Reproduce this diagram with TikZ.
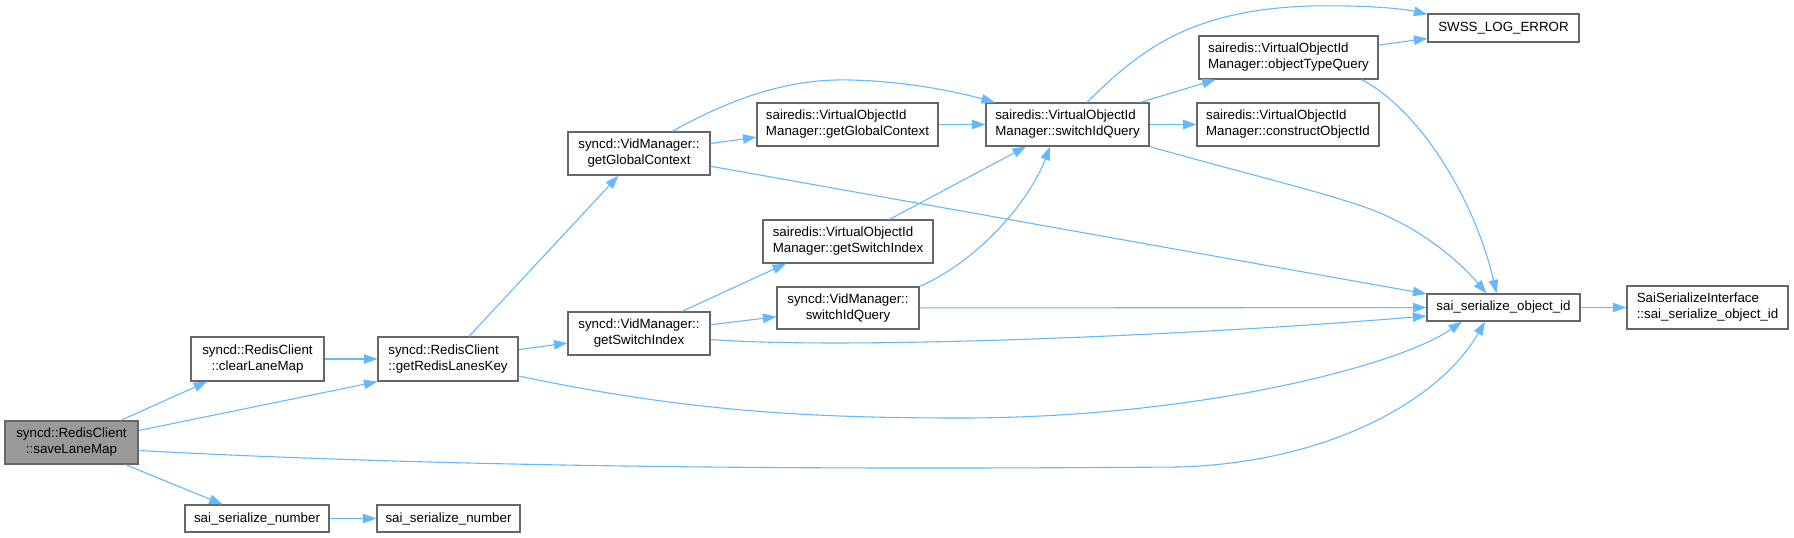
\documentclass[tikz,border=0pt]{standalone}
\usepackage{fontspec}
\setmainfont{Liberation Sans}
\usetikzlibrary{arrows.meta}
\definecolor{edgeblue}{HTML}{63B8FF}
\definecolor{boxgray}{HTML}{666666}
\definecolor{rootfill}{HTML}{999999}
\begin{document}
\begin{tikzpicture}[x=1pt,y=-1pt,
  box/.style={draw=boxgray, line width=1.2pt, fill=white, inner sep=0pt, text=black,
    font=\fontsize{13.33}{16}\selectfont, align=center},
  lbox/.style={box, align=left},
  edge/.style={draw=edgeblue, line width=1.1pt, -{Triangle[length=13.5pt,width=9.5pt]}},
]
\useasboundingbox (0,0) rectangle (1794,538);
% nodes
\node[box, fill=rootfill, minimum width=133pt, minimum height=43pt] (save) at (71.5,442.5) {syncd::RedisClient\\::saveLaneMap};
\node[box, minimum width=133pt, minimum height=44pt] (clear) at (257.5,359) {syncd::RedisClient\\::clearLaneMap};
\node[lbox, minimum width=140pt, minimum height=44pt] (lanes) at (448,359) {syncd::RedisClient\\::getRedisLanesKey};
\node[box, minimum width=144pt, minimum height=27pt] (numA) at (257,518.5) {sai\_serialize\_number};
\node[box, minimum width=143pt, minimum height=27pt] (numB) at (448.5,518.5) {sai\_serialize\_number};
\node[box, minimum width=142pt, minimum height=43pt] (vgc) at (639,153.5) {syncd::VidManager::\\getGlobalContext};
\node[box, minimum width=142pt, minimum height=43pt] (vgsi) at (639,333.5) {syncd::VidManager::\\getSwitchIndex};
\node[lbox, minimum width=181pt, minimum height=43pt] (sgc) at (847.5,124.5) {sairedis::VirtualObjectId\\Manager::getGlobalContext};
\node[lbox, minimum width=170pt, minimum height=43pt] (sgsi) at (848,241.5) {sairedis::VirtualObjectId\\Manager::getSwitchIndex};
\node[box, minimum width=142pt, minimum height=42pt] (vsiq) at (848,308) {syncd::VidManager::\\switchIdQuery};
\node[lbox, minimum width=163pt, minimum height=43pt] (ssiq) at (1067.5,124.5) {sairedis::VirtualObjectId\\Manager::switchIdQuery};
\node[lbox, minimum width=179pt, minimum height=43pt] (otq) at (1288.5,57.5) {sairedis::VirtualObjectId\\Manager::objectTypeQuery};
\node[lbox, minimum width=182pt, minimum height=43pt] (coid) at (1288,124.5) {sairedis::VirtualObjectId\\Manager::constructObjectId};
\node[box, minimum width=151pt, minimum height=28pt] (swss) at (1503.5,28) {SWSS\_LOG\_ERROR};
\node[box, minimum width=153pt, minimum height=27pt] (soid) at (1503.5,307.5) {sai\_serialize\_object\_id};
\node[lbox, minimum width=161pt, minimum height=43pt] (ssi) at (1707.5,307.5) {SaiSerializeInterface\\::sai\_serialize\_object\_id};
% edges
\draw[edge] (save) -- (clear);
\draw[edge] ([yshift=12pt]save.east) -- (lanes.south west);
\draw[edge] ([yshift=-8pt]save.east) .. controls (500,470) and (900,469) .. (1180,467) .. controls (1330,462) and (1440,400) .. ([xshift=-18.5pt]soid.south);
\draw[edge] (save) -- (numA);
\draw[edge] (clear) -- (lanes);
\draw[edge] (lanes) -- (vgc);
\draw[edge] (lanes) -- (vgsi);
\draw[edge] ([yshift=-17pt]lanes.east) .. controls (680,410) and (800,418) .. (960,418) .. controls (1200,418) and (1400,365) .. ([xshift=-41.5pt]soid.south);
\draw[edge] (vgc) -- (sgc);
\draw[edge] ([xshift=33pt]vgc.north) .. controls (720,105) and (780,78) .. (850,80) .. controls (900,81) and (950,90) .. ([xshift=-72.5pt]ssiq.north);
\draw[edge] (vgc) -- (soid);
\draw[edge] ([xshift=43pt]vgsi.north) -- ([xshift=-62pt]sgsi.south);
\draw[edge] (vgsi) -- (vsiq);
\draw[edge] ([yshift=-6pt]vgsi.east) .. controls (850,350) and (1200,335) .. ([yshift=-8.5pt]soid.west);
\draw[edge] (sgc) -- (ssiq);
\draw[edge] (sgsi) -- (ssiq);
\draw[edge] (vsiq.north east) .. controls (980,260) and (1030,200) .. ([xshift=-17.5pt]ssiq.south);
\draw[edge] (vsiq) -- (soid);
\draw[edge] ([xshift=19.5pt]ssiq.north) .. controls (1140,50) and (1190,10) .. (1310,6) .. controls (1360,5) and (1400,8) .. ([yshift=-1pt]swss.north west);
\draw[edge] (ssiq) -- (otq);
\draw[edge] (ssiq) -- (coid);
\draw[edge] (ssiq.south east) .. controls (1250,175) and (1340,196) .. (1380,213) .. controls (1425,232) and (1460,262) .. ([xshift=-17pt]soid.north);
\draw[edge] (otq) -- (swss);
\draw[edge] ([xshift=73pt]otq.south) .. controls (1420,110) and (1475,200) .. ([xshift=-7pt]soid.north);
\draw[edge] (soid) -- (ssi);
\draw[edge] (numA) -- (numB);
\end{tikzpicture}
\end{document}
